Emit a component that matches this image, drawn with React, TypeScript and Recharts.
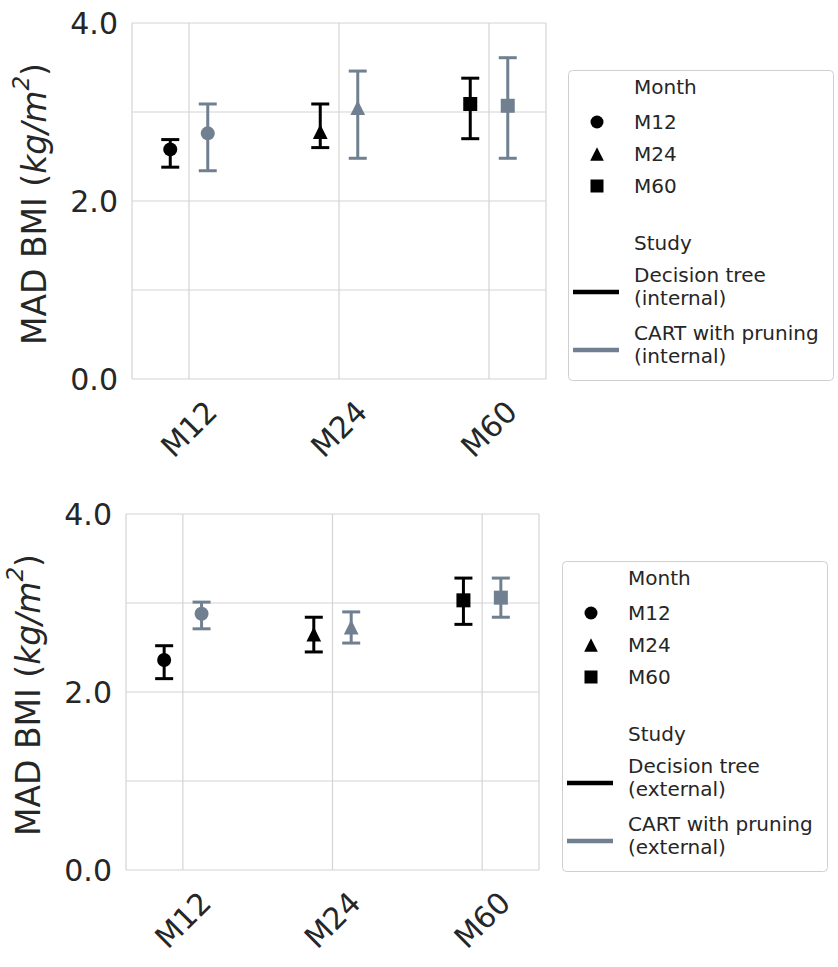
import React from 'react';
import { ScatterChart, Scatter, XAxis, YAxis, CartesianGrid, ErrorBar } from 'recharts';

const months = ['M12', 'M24', 'M60'];
const yTicks = [0, 2, 4];
const yGrid = [0, 1, 2, 3, 4];

// top panel: internal validation
const dtInternalMean = [2.58, 2.78, 3.09];
const dtInternalLow = [2.38, 2.6, 2.7];
const dtInternalHigh = [2.69, 3.09, 3.38];
const cartInternalMean = [2.76, 3.05, 3.07];
const cartInternalLow = [2.34, 2.48, 2.48];
const cartInternalHigh = [3.09, 3.46, 3.61];

// bottom panel: external validation
const dtExternalMean = [2.36, 2.65, 3.03];
const dtExternalLow = [2.15, 2.45, 2.76];
const dtExternalHigh = [2.52, 2.84, 3.28];
const cartExternalMean = [2.88, 2.73, 3.06];
const cartExternalLow = [2.71, 2.55, 2.84];
const cartExternalHigh = [3.01, 2.9, 3.28];

const FONT = '"DejaVu Sans", Verdana, sans-serif';
const TEXT = '#262626';
const GRID = '#d4d4d4';
const BLACK = '#000000';
const SLATE = '#708090';
const DODGE = 0.125;
const X_DOMAIN = [-0.38, 2.38];

const buildPoints = (mean: number[], low: number[], high: number[], dodge: number) =>
  months.map((m, i) => ({
    x: i + dodge,
    y: mean[i],
    err: [mean[i] - low[i], high[i] - mean[i]],
    month: m,
    idx: i,
  }));

const markerShape = (idx: number, cx: number, cy: number, fill: string, s = 7) => {
  if (idx === 0) return <circle cx={cx} cy={cy} r={s} fill={fill} />;
  if (idx === 1) {
    const h = s * 1.05;
    return (
      <polygon
        points={`${cx},${cy - h} ${cx - h},${cy + h} ${cx + h},${cy + h}`}
        fill={fill}
      />
    );
  }
  return <rect x={cx - s} y={cy - s} width={s * 2} height={s * 2} fill={fill} />;
};

const XTick = (props: any) => {
  const { x, y, payload } = props;
  const cy = y + 50;
  return (
    <text
      x={x}
      y={cy}
      transform={`rotate(-45 ${x} ${cy})`}
      textAnchor="middle"
      dominantBaseline="central"
      fontSize={30}
      fontFamily={FONT}
      fill={TEXT}
    >
      {months[payload.value]}
    </text>
  );
};

const YLabel = (props: any) => {
  const { viewBox } = props;
  const cx = viewBox.x + viewBox.width - 98;
  const cy = viewBox.y + viewBox.height / 2 + 3;
  return (
    <text
      x={cx}
      y={cy}
      transform={`rotate(-90 ${cx} ${cy})`}
      textAnchor="middle"
      dominantBaseline="central"
      fontSize={33}
      fontFamily={FONT}
      fill={TEXT}
    >
      MAD BMI (
      <tspan fontStyle="italic">kg/m</tspan>
      <tspan fontStyle="italic" fontSize={23} dy={-13}>2</tspan>
      <tspan dy={13}>)</tspan>
    </text>
  );
};

const LegendBox = ({ left, top, suffix }: { left: number; top: number; suffix: string }) => {
  const studies = [
    { name: 'Decision tree', color: BLACK },
    { name: 'CART with pruning', color: SLATE },
  ];
  const txt = { fontSize: 20, fontFamily: FONT, fill: TEXT, dominantBaseline: 'central' as const };
  return (
    <svg style={{ position: 'absolute', left, top }} width={267} height={312}>
      <rect x={0.5} y={0.5} width={265} height={310} rx={4} fill="#ffffff" stroke="#cfcfcf" />
      <text x={66} y={17} {...txt}>Month</text>
      {months.map((m, i) => (
        <g key={m}>
          {markerShape(i, 29, 52 + i * 32, BLACK, 6.5)}
          <text x={66} y={52 + i * 32} {...txt}>{m}</text>
        </g>
      ))}
      <text x={66} y={173} {...txt}>Study</text>
      {studies.map((s, j) => {
        const base = 205 + j * 58;
        return (
          <g key={s.name}>
            <line x1={5} x2={51} y1={base + 17} y2={base + 17} stroke={s.color} strokeWidth={4.5} />
            <text x={66} y={base} {...txt}>{s.name}</text>
            <text x={66} y={base + 23} {...txt}>{`(${suffix})`}</text>
          </g>
        );
      })}
    </svg>
  );
};

interface PanelProps {
  top: number;
  height: number;
  plotLeft: number;
  plotRight: number;
  dt: any[];
  cart: any[];
}

const Panel = ({ top, height, plotLeft, plotRight, dt, cart }: PanelProps) => {
  const width = 560;
  return (
    <div style={{ position: 'absolute', left: 0, top }}>
      <ScatterChart
        width={width}
        height={height}
        margin={{ top: 23, right: width - plotRight, bottom: 0, left: 0 }}
      >
        <CartesianGrid
          stroke={GRID}
          strokeWidth={1.2}
          horizontalValues={yGrid}
          verticalValues={[X_DOMAIN[0], 0, 1, 2, X_DOMAIN[1]]}
        />
        <XAxis
          type="number"
          dataKey="x"
          domain={X_DOMAIN}
          ticks={[0, 1, 2]}
          interval={0}
          allowDataOverflow
          height={height - 23 - 356}
          axisLine={false}
          tickLine={false}
          tickSize={0}
          tickMargin={0}
          tick={<XTick />}
        />
        <YAxis
          type="number"
          dataKey="y"
          domain={[0, 4]}
          ticks={yTicks}
          width={plotLeft}
          axisLine={false}
          tickLine={false}
          tickSize={0}
          tickMargin={14}
          tickFormatter={(v: number) => v.toFixed(1)}
          tick={{ fontSize: 30, fill: TEXT, fontFamily: FONT }}
          label={<YLabel />}
        />
        <Scatter
          data={dt}
          isAnimationActive={false}
          fill={BLACK}
          shape={(p: any) => markerShape(p.payload.idx, p.cx, p.cy, BLACK)}
        >
          <ErrorBar dataKey="err" direction="y" width={9} strokeWidth={3} stroke={BLACK} />
        </Scatter>
        <Scatter
          data={cart}
          isAnimationActive={false}
          fill={SLATE}
          shape={(p: any) => markerShape(p.payload.idx, p.cx, p.cy, SLATE)}
        >
          <ErrorBar dataKey="err" direction="y" width={9} strokeWidth={3} stroke={SLATE} />
        </Scatter>
      </ScatterChart>
    </div>
  );
};

export default function App() {
  const dtInt = buildPoints(dtInternalMean, dtInternalLow, dtInternalHigh, -DODGE);
  const cartInt = buildPoints(cartInternalMean, cartInternalLow, cartInternalHigh, DODGE);
  const dtExt = buildPoints(dtExternalMean, dtExternalLow, dtExternalHigh, -DODGE);
  const cartExt = buildPoints(cartExternalMean, cartExternalLow, cartExternalHigh, DODGE);

  return (
    <div style={{ position: 'absolute', left: 0, top: 0, width: 838, height: 967, background: '#fff' }}>
      <Panel top={0} height={480} plotLeft={132} plotRight={546} dt={dtInt} cart={cartInt} />
      <LegendBox left={568} top={70} suffix="internal" />
      <Panel top={491} height={476} plotLeft={126} plotRight={539} dt={dtExt} cart={cartExt} />
      <LegendBox left={562} top={561} suffix="external" />
    </div>
  );
}
